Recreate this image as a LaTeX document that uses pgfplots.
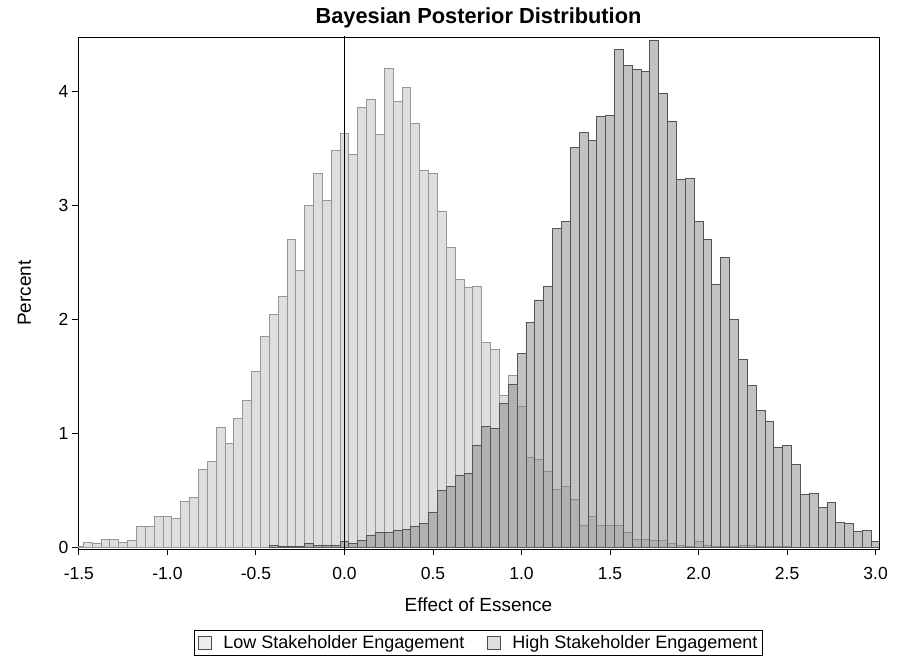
\documentclass[border=0pt]{standalone}
\usepackage{fontspec}
\setmainfont{Liberation Sans}
\usepackage{pgfplots}
\pgfplotsset{compat=1.18}
\definecolor{lowfill}{RGB}{189,189,189}
\definecolor{highfill}{RGB}{133,133,133}
\definecolor{lowedge}{RGB}{150,150,150}
\definecolor{highedge}{RGB}{85,85,85}
\definecolor{lowleg}{RGB}{222,222,222}
\definecolor{highleg}{RGB}{192,192,192}
\newcommand{\tickfont}{\fontsize{17.5}{20}\selectfont}
\newcommand{\legfont}{\fontsize{18}{21}\selectfont}
\newcommand{\labfont}{\fontsize{19}{22}\selectfont}
\begin{document}
\begin{tikzpicture}
\useasboundingbox (-78pt,-108pt) rectangle (827pt,549pt);
\begin{axis}[
  at={(0pt,0pt)}, anchor=south west,
  scale only axis, width=801pt, height=512pt,
  xmin=-1.505, xmax=3.019, ymin=-0.015, ymax=4.476,
  xtick={-1.5,-1,-0.5,0,0.5,1,1.5,2,2.5,3},
  ytick={0,1,2,3,4},
  tick pos=left, tick align=outside, major tick length=6pt,
  every tick/.style={black, line width=0.9pt},
  axis line style={black, line width=0.9pt},
  /pgf/number format/assume math mode=true,
  xticklabel style={/pgf/number format/.cd, fixed, fixed zerofill, precision=1, assume math mode=true, /tikz/.cd, font=\tickfont, yshift=-9pt},
  yticklabel style={font=\tickfont},
  title={Bayesian Posterior Distribution},
  title style={font=\bfseries\fontsize{21.8}{24}\selectfont, at={(axis description cs:0.5,1)}, anchor=base, yshift=7pt},
  xlabel={Effect of Essence},
  xlabel style={font=\labfont, at={(axis description cs:0.5,0)}, anchor=base, yshift=-62pt},
  ylabel={Percent},
  ylabel style={font=\labfont, at={([xshift=-47pt]axis description cs:0,0.5)}, anchor=base},
  legend style={at={(axis description cs:0.5,0)}, anchor=north, yshift=-81pt,
    legend columns=2, draw=black, line width=0.9pt, font=\legfont, inner sep=3pt,
    /tikz/every even column/.append style={column sep=20pt}},
]
\addplot[ybar, bar width=0.05, bar shift=0pt, fill=lowfill, fill opacity=0.5, draw=lowedge, line width=0.8pt,
  legend image code/.code={\draw[fill=lowleg, draw=black!70, line width=0.8pt] (3pt,-6.5pt) rectangle (16pt,6.5pt); \path (26pt,0pt);}]
coordinates {
(-1.50,0.01) (-1.45,0.04) (-1.40,0.03) (-1.35,0.07) (-1.30,0.07) (-1.25,0.04) (-1.20,0.06)
(-1.15,0.18) (-1.10,0.18) (-1.05,0.27) (-1.00,0.27) (-0.95,0.25) (-0.90,0.40) (-0.85,0.44)
(-0.80,0.68) (-0.75,0.75) (-0.70,1.05) (-0.65,0.91) (-0.60,1.13) (-0.55,1.29) (-0.50,1.54)
(-0.45,1.85) (-0.40,2.04) (-0.35,2.20) (-0.30,2.70) (-0.25,2.43) (-0.20,3.00) (-0.15,3.28)
(-0.10,3.04) (-0.05,3.48) (0.00,3.63) (0.05,3.45) (0.10,3.86) (0.15,3.93) (0.20,3.62)
(0.25,4.20) (0.30,3.91) (0.35,4.03) (0.40,3.72) (0.45,3.31) (0.50,3.28) (0.55,2.95)
(0.60,2.63) (0.65,2.35) (0.70,2.28) (0.75,2.29) (0.80,1.80) (0.85,1.74) (0.90,1.33)
(0.95,1.51) (1.00,1.24) (1.05,0.79) (1.10,0.77) (1.15,0.67) (1.20,0.51) (1.25,0.53)
(1.30,0.42) (1.35,0.19) (1.40,0.27) (1.45,0.19) (1.50,0.19) (1.55,0.19) (1.60,0.13)
(1.65,0.07) (1.70,0.07) (1.75,0.06) (1.80,0.06) (1.85,0.03) (1.90,0.015) (1.95,0.01)
(2.00,0.05) (2.05,0.015) (2.10,0.01) (2.15,0.01) (2.20,0.01) (2.25,0.02) (2.30,0.02)
(2.35,0.005) (2.40,0.005) (2.45,0.01) (2.50,0.005)
};
\addlegendentry{Low Stakeholder Engagement}
\addplot[ybar, bar width=0.05, bar shift=0pt, fill=highfill, fill opacity=0.5, draw=highedge, line width=0.8pt,
  legend image code/.code={\draw[fill=highleg, draw=black!70, line width=0.8pt] (3pt,-6.5pt) rectangle (16pt,6.5pt); \path (26pt,0pt);}]
coordinates {
(-0.40,0.02) (-0.35,0.006) (-0.30,0.006) (-0.25,0.006) (-0.20,0.03) (-0.15,0.02) (-0.10,0.02)
(-0.05,0.02) (0.00,0.05) (0.05,0.03) (0.10,0.06) (0.15,0.10) (0.20,0.13) (0.25,0.13)
(0.30,0.15) (0.35,0.16) (0.40,0.18) (0.45,0.21) (0.50,0.31) (0.55,0.50) (0.60,0.53)
(0.65,0.63) (0.70,0.65) (0.75,0.89) (0.80,1.06) (0.85,1.04) (0.90,1.26) (0.95,1.43)
(1.00,1.70) (1.05,1.97) (1.10,2.17) (1.15,2.29) (1.20,2.80) (1.25,2.86) (1.30,3.51)
(1.35,3.64) (1.40,3.57) (1.45,3.78) (1.50,3.79) (1.55,4.37) (1.60,4.23) (1.65,4.19)
(1.70,4.17) (1.75,4.45) (1.80,3.98) (1.85,3.74) (1.90,3.23) (1.95,3.24) (2.00,2.86)
(2.05,2.70) (2.10,2.31) (2.15,2.54) (2.20,2.00) (2.25,1.65) (2.30,1.42) (2.35,1.20)
(2.40,1.10) (2.45,0.88) (2.50,0.89) (2.55,0.73) (2.60,0.46) (2.65,0.47) (2.70,0.35)
(2.75,0.39) (2.80,0.22) (2.85,0.21) (2.90,0.14) (2.95,0.15) (3.00,0.05)
};
\addlegendentry{High Stakeholder Engagement}
\addplot[black, line width=1pt, forget plot] coordinates {(0,-0.02) (0,4.5)};
\end{axis}
\end{tikzpicture}
\end{document}
